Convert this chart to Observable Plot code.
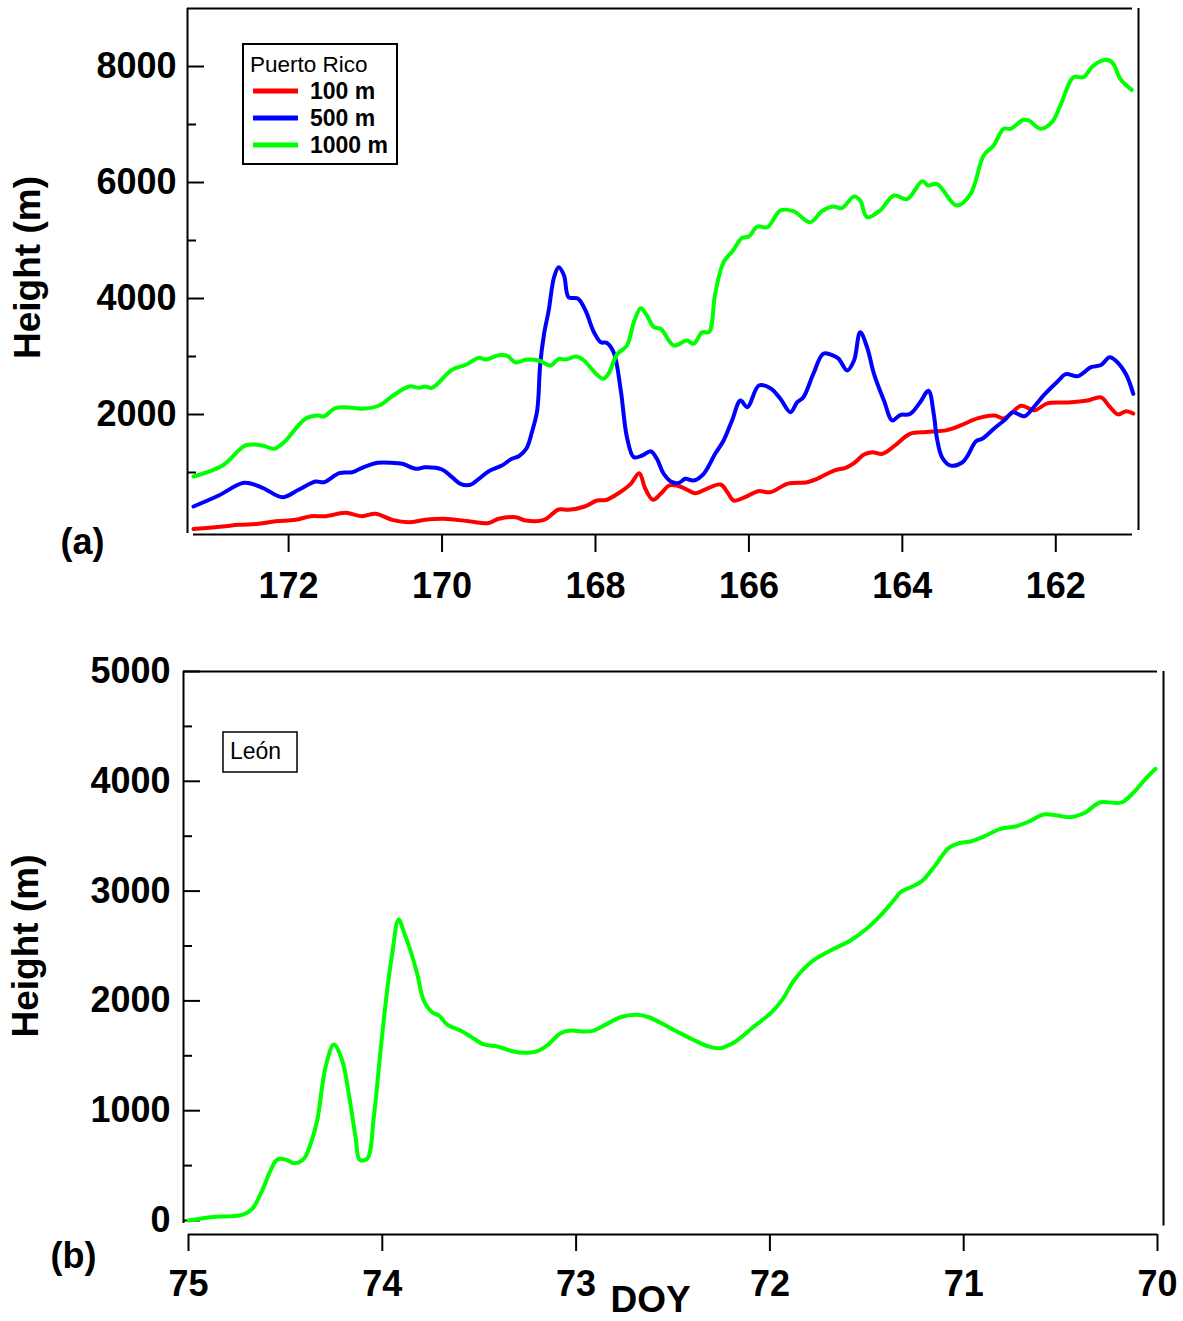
<!DOCTYPE html>
<html><head><meta charset="utf-8">
<script src="https://cdn.jsdelivr.net/npm/d3@7"></script>
<script src="https://cdn.jsdelivr.net/npm/@observablehq/plot@0.6"></script>
<style>
body{margin:0;background:#fff;font-family:"Liberation Sans",Arial,sans-serif;}
#wrap{position:relative;width:1183px;height:1321px;background:#fff;}
#top{position:absolute;left:0;top:0;}
#bot{position:absolute;left:0;top:620px;}
.lg{position:absolute;}
</style></head><body>
<div id="wrap"><div id="top"></div><div id="bot"></div><div id="leg1" class="lg"></div><div id="leg2" class="lg"></div></div>
<script>
// ---------- Panel (a): Puerto Rico ----------
const seriesNames = ["100 m", "500 m", "1000 m"];
const seriesColors = ["#ff0000", "#0000ff", "#00ff00"];
const legendTitleA = "Puerto Rico";
const legendTitleB = "León";

const pr100 = [[173.24,26],[172.86,69],[172.65,98],[172.39,116],[172.17,160],[171.91,184],[171.71,247],[171.52,247],[171.26,305],[171.04,247],[170.87,288],[170.65,184],[170.43,143],[170.22,184],[169.98,202],[169.65,160],[169.41,126],[169.26,202],[169.04,229],[168.91,172],[168.67,184],[168.48,362],[168.35,357],[168.14,414],[167.98,517],[167.86,526],[167.70,643],[167.54,805],[167.43,988],[167.35,719],[167.25,529],[167.15,633],[167.04,776],[166.94,776],[166.83,719],[166.70,643],[166.55,719],[166.37,793],[166.28,660],[166.20,517],[166.05,574],[165.88,678],[165.72,660],[165.50,805],[165.24,833],[165.11,891],[164.89,1034],[164.74,1081],[164.63,1160],[164.50,1310],[164.39,1350],[164.26,1322],[164.07,1495],[163.90,1667],[163.68,1697],[163.42,1731],[163.24,1812],[163.02,1934],[162.80,1983],[162.67,1934],[162.45,2152],[162.28,2071],[162.11,2193],[161.84,2207],[161.59,2240],[161.41,2295],[161.30,2138],[161.19,2002],[161.08,2057],[160.99,2016]];

const pr500 = [[173.24,414],[172.91,603],[172.58,822],[172.34,736],[172.08,574],[171.87,702],[171.65,845],[171.54,833],[171.34,988],[171.17,1005],[171.04,1081],[170.84,1167],[170.65,1167],[170.52,1150],[170.34,1064],[170.22,1091],[170.00,1052],[169.87,919],[169.76,805],[169.63,788],[169.52,891],[169.39,1022],[169.22,1121],[169.09,1236],[169.00,1281],[168.90,1414],[168.83,1690],[168.76,2069],[168.72,2874],[168.67,3391],[168.61,3793],[168.54,4367],[168.48,4540],[168.41,4396],[168.35,4022],[168.23,4000],[168.13,3793],[168.02,3419],[167.93,3246],[167.85,3233],[167.76,3060],[167.67,2414],[167.59,1609],[167.50,1264],[167.39,1293],[167.28,1367],[167.20,1236],[167.11,978],[167.00,833],[166.91,822],[166.83,891],[166.72,862],[166.59,978],[166.44,1322],[166.33,1552],[166.22,1897],[166.11,2241],[166.02,2126],[165.87,2500],[165.72,2453],[165.59,2271],[165.46,2040],[165.37,2212],[165.29,2298],[165.16,2702],[165.03,3047],[164.90,3017],[164.83,2960],[164.72,2759],[164.63,2931],[164.55,3419],[164.46,3160],[164.37,2702],[164.24,2241],[164.13,1897],[164.03,1991],[163.90,2009],[163.77,2207],[163.66,2410],[163.59,2002],[163.55,1595],[163.48,1255],[163.37,1119],[163.22,1172],[163.15,1288],[163.04,1540],[162.96,1581],[162.80,1764],[162.67,1900],[162.56,2036],[162.41,1969],[162.28,2138],[162.15,2341],[161.97,2579],[161.87,2695],[161.71,2662],[161.54,2817],[161.41,2852],[161.30,2988],[161.21,2919],[161.08,2681],[160.99,2355]];

const pr1000 = [[173.24,931],[172.86,1121],[172.56,1466],[172.34,1466],[172.19,1409],[172.06,1522],[171.78,1926],[171.61,1983],[171.54,1966],[171.39,2109],[171.17,2116],[171.04,2098],[170.82,2155],[170.65,2315],[170.43,2483],[170.30,2460],[170.22,2483],[170.13,2460],[169.87,2771],[169.69,2857],[169.52,2978],[169.43,2948],[169.26,3022],[169.15,3012],[169.04,2897],[168.91,2943],[168.74,2931],[168.59,2845],[168.48,2957],[168.39,2948],[168.25,3000],[168.15,2931],[168.00,2712],[167.90,2616],[167.83,2702],[167.72,3034],[167.59,3190],[167.50,3591],[167.41,3833],[167.33,3707],[167.24,3505],[167.15,3478],[166.98,3190],[166.81,3276],[166.72,3219],[166.61,3419],[166.52,3422],[166.44,4081],[166.33,4626],[166.20,4840],[166.09,5046],[166.00,5069],[165.89,5241],[165.76,5229],[165.59,5517],[165.42,5505],[165.20,5315],[165.05,5505],[164.90,5586],[164.79,5557],[164.63,5759],[164.55,5690],[164.46,5402],[164.29,5517],[164.11,5776],[163.94,5712],[163.74,6022],[163.66,5948],[163.55,5977],[163.29,5603],[163.11,5805],[162.94,6466],[162.81,6638],[162.68,6926],[162.59,6926],[162.42,7081],[162.35,7069],[162.20,6926],[162.05,7040],[161.94,7328],[161.77,7815],[161.64,7815],[161.51,8017],[161.33,8115],[161.25,8046],[161.16,7788],[161.01,7598]];

const topXTicks = [172, 170, 168, 166, 164, 162];
const topYLabels = [2000, 4000, 6000, 8000];
const topYMinor = [1000, 3000, 5000, 7000];

// ---------- Panel (b): León ----------
const leon1000 = [[75.0,0],[74.886,30],[74.723,52],[74.671,106],[74.62,273],[74.577,455],[74.542,556],[74.5,556],[74.453,522],[74.405,562],[74.37,698],[74.336,911],[74.293,1396],[74.25,1603],[74.207,1457],[74.173,1154],[74.138,759],[74.116,553],[74.078,562],[74.044,941],[74.009,1548],[73.975,2095],[73.949,2429],[73.916,2741],[73.886,2614],[73.855,2459],[73.82,2247],[73.786,2004],[73.743,1897],[73.708,1867],[73.665,1785],[73.597,1730],[73.545,1676],[73.476,1603],[73.407,1585],[73.321,1539],[73.27,1527],[73.2,1542],[73.149,1594],[73.08,1706],[73.029,1730],[72.96,1721],[72.909,1730],[72.84,1791],[72.771,1851],[72.691,1873],[72.624,1851],[72.49,1730],[72.395,1646],[72.317,1585],[72.26,1569],[72.183,1624],[72.087,1760],[71.991,1897],[71.933,2019],[71.876,2186],[71.79,2350],[71.687,2459],[71.584,2550],[71.5,2659],[71.43,2777],[71.362,2914],[71.326,2990],[71.223,3081],[71.154,3218],[71.077,3394],[71.025,3436],[70.965,3452],[70.896,3497],[70.81,3567],[70.733,3588],[70.672,3627],[70.586,3697],[70.517,3688],[70.449,3673],[70.38,3709],[70.294,3809],[70.225,3804],[70.182,3809],[70.122,3901],[70.062,4022],[70.01,4114]];

const botXTicks = [75, 74, 73, 72, 71, 70];
const botYLabels = [0, 1000, 2000, 3000, 4000, 5000];
const botYMinor = [500, 1500, 2500, 3500, 4500];

const FONT = "'Liberation Sans', Arial, Helvetica, sans-serif";
const lineOpts = (color) => ({x: d => d[0], y: d => d[1], stroke: color, strokeWidth: 4, curve: "catmull-rom", strokeLinejoin: "round", strokeLinecap: "round"});

// Top panel geometry
const tW = 1183, tH = 620, tML = 187, tMR = 51, tMT = 8, tMB = 86;
const tFrameW = tW - tML - tMR;
const tX0 = 173.318, tXdata0 = 173.24, tX1 = 161.0, tY0 = -69, tY1 = 9000;

const topPlot = Plot.plot({
  width: tW, height: tH,
  marginLeft: tML, marginRight: tMR, marginTop: tMT, marginBottom: tMB,
  x: {domain: [tX0, tX1]},
  y: {domain: [tY0, tY1]},
  style: {fontFamily: FONT, fontSize: "36px", fontWeight: "bold", background: "white", color: "black", overflow: "visible"},
  marks: [
    Plot.ruleX([tX0], {y1: -50, y2: tY1, strokeWidth: 2}),
    Plot.ruleY([tY0], {x1: tXdata0, x2: tX1, strokeWidth: 2}),
    Plot.ruleY([tY1], {x1: tX0, x2: tX1, strokeWidth: 2}),
    Plot.ruleX([tX1], {y1: 0, y2: tY1, dx: 6, strokeWidth: 2}),
    Plot.tickY(topYLabels, {strokeWidth: 2, insetRight: tFrameW - 17}),
    Plot.tickY(topYMinor, {strokeWidth: 2, insetRight: tFrameW - 9}),
    Plot.axisY({ticks: topYLabels, tickSize: 0, tickPadding: 11, tickFormat: "d", label: null, fontSize: 36, fontWeight: "bold"}),
    Plot.axisX({ticks: topXTicks, tickSize: 18, tickPadding: 20, tickFormat: "d", label: null, strokeWidth: 2, fontSize: 36, fontWeight: "bold"}),
    Plot.line(pr100, lineOpts(seriesColors[0])),
    Plot.line(pr500, lineOpts(seriesColors[1])),
    Plot.line(pr1000, lineOpts(seriesColors[2])),
    Plot.text(["Height (m)"], {text: d => d, frameAnchor: "left", textAnchor: "middle", lineAnchor: "middle", rotate: -90, dx: -159, dy: -4, fontSize: 37, fontWeight: "bold"}),
    Plot.text(["(a)"], {text: d => d, frameAnchor: "bottom-left", textAnchor: "middle", lineAnchor: "middle", dx: -105, dy: 8, fontSize: 36, fontWeight: "bold"})
  ]
});
document.getElementById("top").appendChild(topPlot);

// Bottom panel geometry
const bW = 1183, bH = 701, bML = 183, bMR = 26, bMT = 51, bMB = 87;
const bFrameW = bW - bML - bMR;
const bX0 = 75.0258, bXdata0 = 75, bX1 = 70, bY0 = -127.5, bY1 = 5000;

const botPlot = Plot.plot({
  width: bW, height: bH,
  marginLeft: bML, marginRight: bMR, marginTop: bMT, marginBottom: bMB,
  x: {domain: [bX0, bX1]},
  y: {domain: [bY0, bY1]},
  style: {fontFamily: FONT, fontSize: "36px", fontWeight: "bold", background: "white", color: "black", overflow: "visible"},
  marks: [
    Plot.ruleX([bX0], {y1: -27, y2: bY1, strokeWidth: 2}),
    Plot.ruleY([bY0], {x1: bXdata0, x2: bX1, strokeWidth: 2}),
    Plot.ruleY([bY1], {x1: bX0, x2: bX1, strokeWidth: 2}),
    Plot.ruleX([bX1], {y1: -50, y2: bY1, dx: 6, strokeWidth: 2}),
    Plot.tickY(botYLabels, {strokeWidth: 2, insetRight: bFrameW - 17}),
    Plot.tickY(botYMinor, {strokeWidth: 2, insetRight: bFrameW - 9}),
    Plot.axisY({ticks: botYLabels, tickSize: 0, tickPadding: 13, tickFormat: "d", label: null, fontSize: 36, fontWeight: "bold"}),
    Plot.axisX({ticks: botXTicks, tickSize: 17, tickPadding: 19, tickFormat: "d", label: null, strokeWidth: 2, fontSize: 36, fontWeight: "bold"}),
    Plot.line(leon1000, lineOpts(seriesColors[2])),
    Plot.text(["Height (m)"], {text: d => d, frameAnchor: "left", textAnchor: "middle", lineAnchor: "middle", rotate: -90, dx: -157, dy: -7, fontSize: 37, fontWeight: "bold"}),
    Plot.text(["(b)"], {text: d => d, frameAnchor: "bottom-left", textAnchor: "middle", lineAnchor: "middle", dx: -110, dy: 22, fontSize: 36, fontWeight: "bold"}),
    Plot.text(["DOY"], {text: d => d, frameAnchor: "bottom", textAnchor: "middle", lineAnchor: "middle", dx: -20, dy: 66, fontSize: 37, fontWeight: "bold"})
  ]
});
document.getElementById("bot").appendChild(botPlot);

// Legend (a)
(function(){
  const div = d3.select("#leg1").style("left", "242px").style("top", "43px");
  const svg = div.append("svg").attr("width", 157).attr("height", 123).style("font-family", FONT);
  svg.append("rect").attr("x", 1).attr("y", 1).attr("width", 154).attr("height", 120).attr("fill", "white").attr("stroke", "black").attr("stroke-width", 2);
  svg.append("text").attr("x", 8).attr("y", 29).attr("font-size", 22.5).text(legendTitleA);
  seriesNames.forEach((name, i) => {
    svg.append("line").attr("x1", 11).attr("x2", 56).attr("y1", 48 + 27 * i).attr("y2", 48 + 27 * i).attr("stroke", seriesColors[i]).attr("stroke-width", 5);
    svg.append("text").attr("x", 68).attr("y", 56 + 27 * i).attr("font-size", 23).attr("font-weight", "bold").text(name);
  });
})();
// Legend (b)
(function(){
  const div = d3.select("#leg2").style("left", "222px").style("top", "731px");
  const svg = div.append("svg").attr("width", 77).attr("height", 43).style("font-family", FONT);
  svg.append("rect").attr("x", 1).attr("y", 1).attr("width", 74).attr("height", 40).attr("fill", "white").attr("stroke", "black").attr("stroke-width", 1.5);
  svg.append("text").attr("x", 8).attr("y", 28).attr("font-size", 23).text(legendTitleB);
})();
</script>
</body></html>
